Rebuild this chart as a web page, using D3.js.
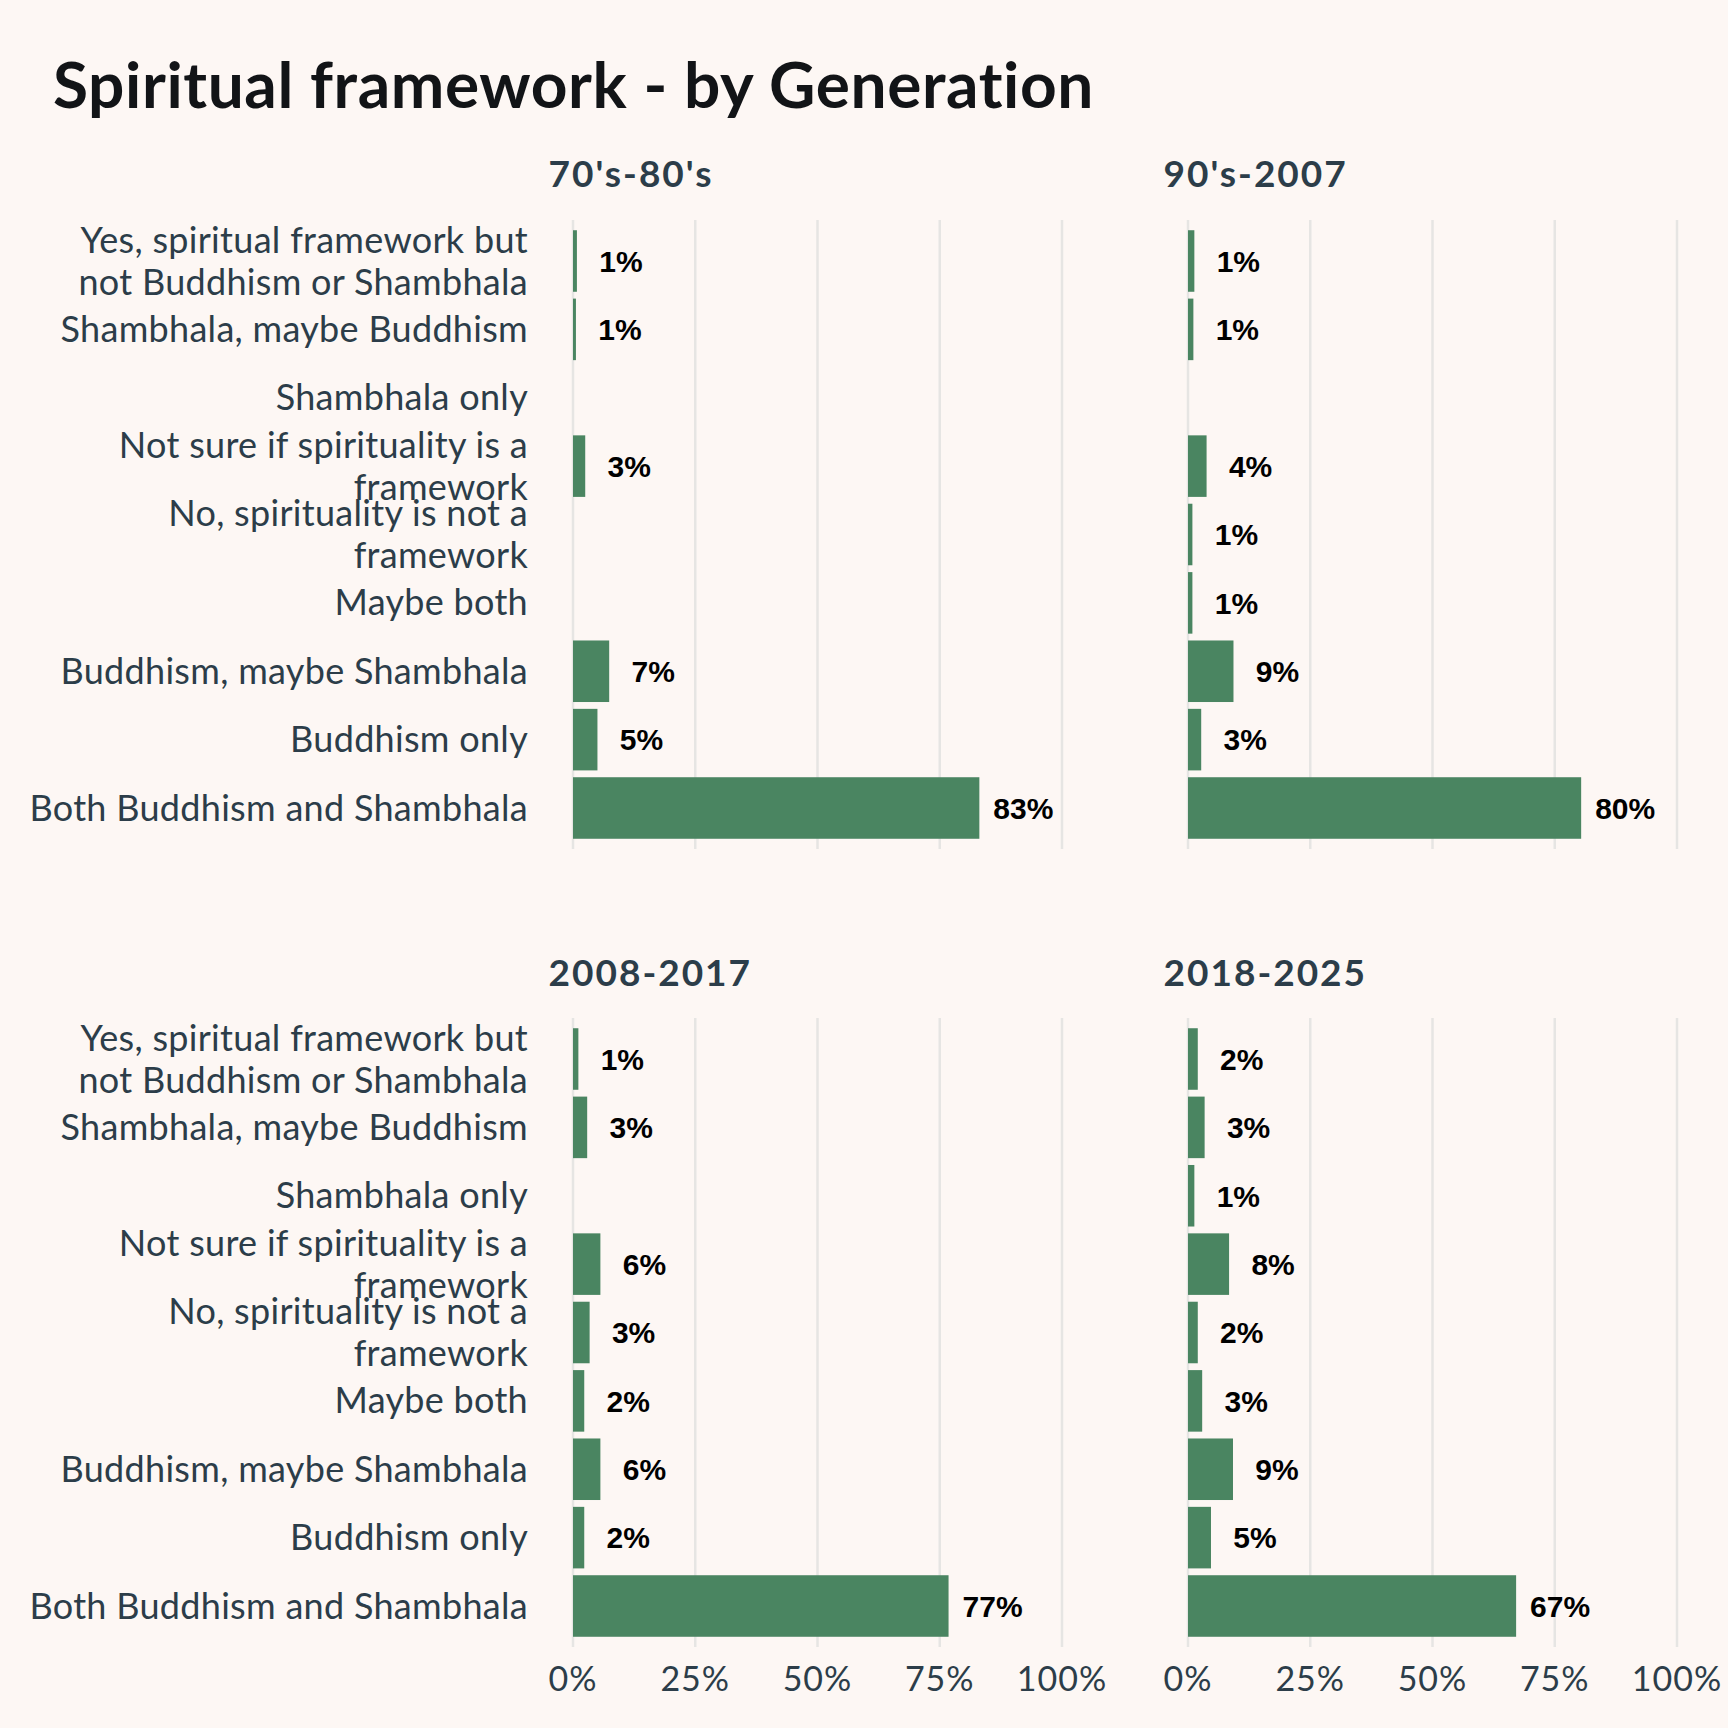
<!DOCTYPE html>
<html>
<head>
<meta charset="utf-8">
<script src="https://cdn.jsdelivr.net/npm/d3@7"></script>
<style>
  body { margin: 0; background: #fdf7f4; }
  svg { display: block; }
</style>
</head>
<body>
<div id="chart"></div>
<script>
// categories, top to bottom
const categories = [
  "Yes, spiritual framework but\nnot Buddhism or Shambhala",
  "Shambhala, maybe Buddhism",
  "Shambhala only",
  "Not sure if spirituality is a\nframework",
  "No, spirituality is not a\nframework",
  "Maybe both",
  "Buddhism, maybe Shambhala",
  "Buddhism only",
  "Both Buddhism and Shambhala"
]

const generations = ["70's-80's", "90's-2007", "2008-2017", "2018-2025"]

// percent values per generation, null = no answer
const gen7080 = [0.8, 0.6, null, 2.5, null, null, 7.4, 5.0, 83.1]
const gen902007 = [1.3, 1.1, null, 3.8, 0.9, 0.9, 9.3, 2.7, 80.4]
const gen20082017 = [1.1, 2.9, null, 5.6, 3.4, 2.3, 5.6, 2.3, 76.8]
const gen20182025 = [2.0, 3.4, 1.3, 8.4, 2.0, 2.9, 9.2, 4.7, 67.1]

const xTicks = [0, 25, 50, 75, 100]

const series = [gen7080, gen902007, gen20082017, gen20182025]

const W = 1728, H = 1728
const barColor = "#4a8561",
  gridColor = "#e6e5e3",
  textColor = "#2c3d49"

const svg = d3.select("#chart").append("svg")
  .attr("width", W)
  .attr("height", H)

svg.append("rect").attr("width", W).attr("height", H).attr("fill", "#fdf7f4")

svg.append("text")
  .attr("x", 53)
  .attr("y", 108)
  .style("font-family", "Lato")
  .style("font-weight", 700)
  .style("font-size", "64px")
  .style("letter-spacing", "0.6px")
  .attr("fill", "#121417")
  .text("Spiritual framework - by Generation")

// panel geometry
const colX0 = [573, 1188]
const rowY = [[261, 808], [1059, 1606]]
const stripY = [187, 986]
const panelW = 489

generations.forEach(function (g, i) {
  const col = i % 2, row = Math.floor(i / 2)
  const x = d3.scaleLinear().domain([0, 100]).range([colX0[col], colX0[col] + panelW])
  const y = d3.scalePoint().domain(categories).range(rowY[row])
  const step = y.step()
  const barH = step * 0.9
  const panel = svg.append("g").attr("class", "panel")

  // grid
  panel.selectAll("line.grid")
    .data(xTicks)
    .enter().append("line")
    .attr("x1", d => x(d)).attr("x2", d => x(d))
    .attr("y1", rowY[row][0] - step * 0.6)
    .attr("y2", rowY[row][1] + step * 0.6)
    .attr("stroke", gridColor)
    .attr("stroke-width", 2.5)

  // strip title
  panel.append("text")
    .attr("x", x(0) - 0.05 * panelW)
    .attr("y", stripY[row])
    .style("font-family", "Lato")
    .style("font-weight", 700)
    .style("font-size", "37px")
    .style("letter-spacing", "2px")
    .attr("fill", textColor)
    .text(g)

  const data = categories.map((c, j) => ({ cat: c, v: series[i][j] })).filter(d => d.v != null)

  panel.selectAll("rect.bar")
    .data(data)
    .enter().append("rect")
    .attr("x", x(0))
    .attr("y", d => y(d.cat) - barH / 2)
    .attr("width", d => x(d.v) - x(0))
    .attr("height", barH)
    .attr("fill", barColor)

  panel.selectAll("text.val")
    .data(data)
    .enter().append("text")
    .attr("x", d => x(d.v) + 44)
    .attr("y", d => y(d.cat))
    .attr("dy", "0.36em")
    .attr("text-anchor", "middle")
    .style("font-family", "Liberation Sans")
    .style("font-weight", 700)
    .style("font-size", "30px")
    .attr("fill", "#000")
    .text(d => Math.round(d.v) + "%")

  // category labels on left column
  if (col === 0) {
    categories.forEach(function (c) {
      const lines = c.split("\n")
      const t = panel.append("text")
        .attr("text-anchor", "end")
        .style("font-family", "Lato")
        .style("font-size", "36px")
        .style("letter-spacing", "0.3px")
        .attr("fill", textColor)
      lines.forEach(function (l, k) {
        t.append("tspan")
          .attr("x", 528)
          .attr("y", y(c) + (k - (lines.length - 1) / 2) * 42)
          .attr("dy", "0.35em")
          .text(l)
      })
    })
  }

  // x axis labels on bottom row
  if (row === 1) {
    panel.selectAll("text.tick")
      .data(xTicks)
      .enter().append("text")
      .attr("x", d => x(d))
      .attr("y", 1691)
      .attr("text-anchor", "middle")
      .style("font-family", "Lato")
      .style("font-size", "34px")
      .style("letter-spacing", "1px")
      .attr("fill", textColor)
      .text(d => d + "%")
  }
})
</script>
</body>
</html>
